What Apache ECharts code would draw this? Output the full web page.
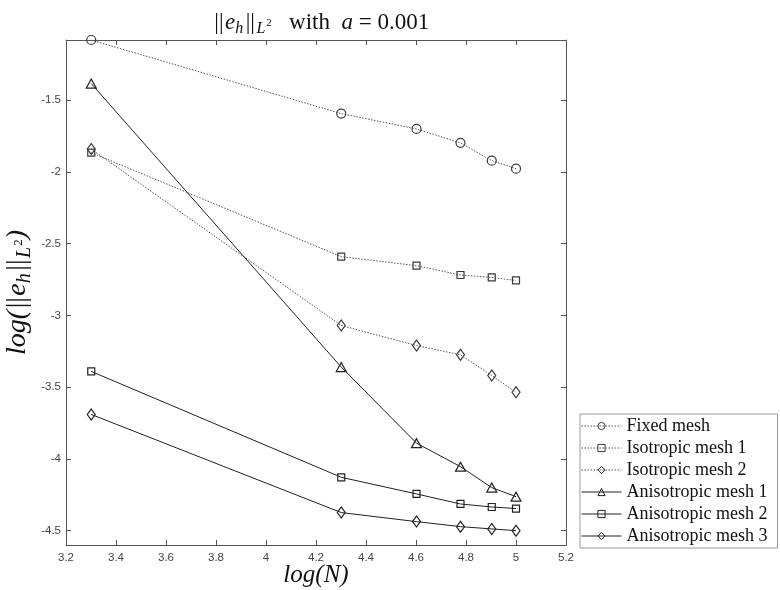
<!DOCTYPE html>
<html><head><meta charset="utf-8">
<script src="https://cdn.jsdelivr.net/npm/echarts@6/dist/echarts.min.js"></script>
<style>html,body{margin:0;padding:0;background:#fff}#c{width:780px;height:590px}</style>
</head><body><div id="c"></div>
<script>
// x values: log10 of number of elements
const xLogN = [3.301, 4.301, 4.602, 4.778, 4.903, 5.0];
const fixedMesh = [-1.08, -1.593, -1.70, -1.797, -1.921, -1.977];
const isoMesh1 = [-1.865, -2.59, -2.653, -2.718, -2.735, -2.756];
const isoMesh2 = [-1.84, -3.07, -3.21, -3.274, -3.419, -3.535];
const anisoMesh1 = [-1.384, -3.36, -3.89, -4.054, -4.20, -4.263];
const anisoMesh2 = [-3.39, -4.128, -4.244, -4.314, -4.335, -4.346];
const anisoMesh3 = [-3.69, -4.374, -4.437, -4.472, -4.488, -4.50];
const seriesNames = ['Fixed mesh', 'Isotropic mesh 1', 'Isotropic mesh 2',
  'Anisotropic mesh 1', 'Anisotropic mesh 2', 'Anisotropic mesh 3'];

const chart = echarts.init(document.getElementById('c'), null, {renderer: 'canvas'});

function mk(name, vals, symbol, size, solid) {
  return {
    name: name, type: 'line',
    data: xLogN.map(function (x, i) { return [x, vals[i]]; }),
    symbol: symbol, symbolSize: size, showSymbol: true,
    lineStyle: {color: solid ? '#222' : '#555', width: 1, type: solid ? 'solid' : [1.5, 1.5]},
    itemStyle: {color: 'rgba(255,255,255,0)', borderColor: solid ? '#222' : '#3a3a3a', borderWidth: 1.2},
    emphasis: {disabled: true},
    animation: false
  };
}

const axisCol = '#555';
const serif = 'Liberation Serif';
const lblStyle = {color: '#444', fontSize: 11.5, fontFamily: 'Liberation Sans'};

function mathRich(fs, lh) {
  const base = {fontFamily: serif, fontWeight: 'normal', color: '#111'};
  return {
    n: Object.assign({}, base, {fontSize: fs, lineHeight: lh, verticalAlign: 'middle'}),
    b: Object.assign({}, base, {fontSize: fs, lineHeight: lh, verticalAlign: 'middle', padding: [0, 1.5, 0, 1.5]}),
    i: Object.assign({}, base, {fontStyle: 'italic', fontSize: fs, lineHeight: lh, verticalAlign: 'middle'}),
    s: Object.assign({}, base, {fontStyle: 'italic', fontSize: Math.round(fs * 0.7), lineHeight: Math.round(fs * 0.72), verticalAlign: 'bottom', padding: [0, 1, 0, 0]}),
    p: Object.assign({}, base, {fontSize: Math.round(fs * 0.46), lineHeight: Math.round(fs * 0.46), verticalAlign: 'bottom', padding: [0, 0, Math.round(fs * 0.36), 0]})
  };
}

const option = {
  backgroundColor: '#fff',
  animation: false,
  title: {
    text: '{b|||}{i|e}{s|h}{b|||}{s|L}{p|2}{n|   with  }{i|a}{n| = 0.001}',
    left: 316, top: 3, textAlign: 'center',
    textStyle: {fontWeight: 'normal', rich: mathRich(23, 29)}
  },
  grid: {left: 66, top: 40, width: 500, height: 505, containLabel: false, outerBoundsMode: 'none'},
  legend: {
    orient: 'vertical', left: 580, top: 414,
    itemWidth: 40, itemHeight: 9, itemGap: 4,
    padding: [3, 10, 3, 1],
    borderColor: '#999', borderWidth: 1, backgroundColor: '#fff',
    itemStyle: {borderWidth: 1},
    lineStyle: {width: 1},
    textStyle: {fontFamily: serif, fontSize: 18, color: '#111', lineHeight: 18},
    data: seriesNames
  },
  xAxis: [{
    type: 'value', min: 3.2, max: 5.2, interval: 0.2, position: 'bottom',
    axisLine: {show: true, onZero: false, lineStyle: {color: axisCol}},
    axisTick: {show: true, inside: true, length: 5, lineStyle: {color: axisCol}},
    axisLabel: Object.assign({margin: 7}, lblStyle),
    splitLine: {show: false},
    name: '{i|log(N)}', nameLocation: 'middle', nameGap: 14, nameMoveOverlap: false,
    nameTextStyle: {rich: mathRich(25, 32)}
  }, {
    type: 'value', min: 3.2, max: 5.2, interval: 0.2, position: 'top',
    axisLine: {show: true, onZero: false, lineStyle: {color: axisCol}},
    axisTick: {show: true, inside: true, length: 5, lineStyle: {color: axisCol}},
    axisLabel: {show: false}, splitLine: {show: false}
  }],
  yAxis: [{
    type: 'value', min: -4.6, max: -1.08, splitNumber: 7, minInterval: 0.5, maxInterval: 0.5,
    position: 'left',
    axisLine: {show: true, onZero: false, lineStyle: {color: axisCol}},
    axisTick: {show: true, inside: true, length: 5, lineStyle: {color: axisCol}},
    axisLabel: Object.assign({margin: 5, showMinLabel: false, showMaxLabel: false}, lblStyle),
    splitLine: {show: false},
    name: '{i|log(}{b|||}{i|e}{s|h}{b|||}{s|L}{p|2}{i|)}', nameLocation: 'middle', nameGap: 31, nameMoveOverlap: false,
    nameTextStyle: {rich: mathRich(28, 34)}
  }, {
    type: 'value', min: -4.6, max: -1.08, splitNumber: 7, minInterval: 0.5, maxInterval: 0.5,
    position: 'right',
    axisLine: {show: true, onZero: false, lineStyle: {color: axisCol}},
    axisTick: {show: true, inside: true, length: 5, lineStyle: {color: axisCol}},
    axisLabel: {show: false}, splitLine: {show: false}
  }],
  series: [
    mk(seriesNames[0], fixedMesh, 'circle', 9, false),
    mk(seriesNames[1], isoMesh1, 'rect', 7, false),
    mk(seriesNames[2], isoMesh2, 'diamond', [8, 11], false),
    mk(seriesNames[3], anisoMesh1, 'triangle', [10, 9], true),
    mk(seriesNames[4], anisoMesh2, 'rect', 7, true),
    mk(seriesNames[5], anisoMesh3, 'diamond', [8, 11], true)
  ]
};
chart.setOption(option);
</script>
</body></html>
